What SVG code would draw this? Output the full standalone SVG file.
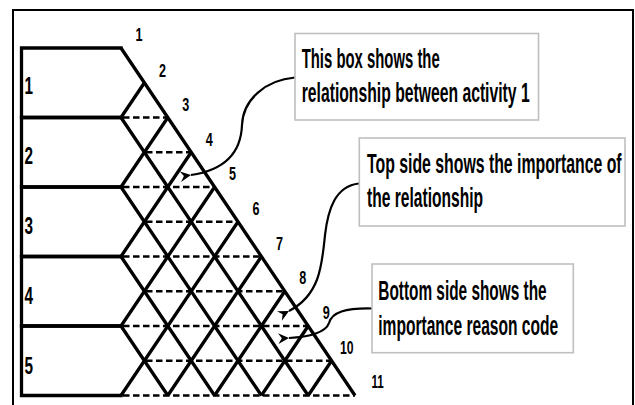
<svg xmlns="http://www.w3.org/2000/svg" width="635" height="405" viewBox="0 0 635 405">
<style>
.solid{fill:none;stroke:#000;stroke-width:3.3;stroke-linejoin:miter;stroke-linecap:square}
.grid{fill:none;stroke:#000;stroke-width:3.3;stroke-linecap:butt}
.dash{fill:none;stroke:#000;stroke-width:2.6;stroke-dasharray:6.5 3.5}
.num{font-family:"Liberation Sans",Arial,sans-serif;font-weight:bold;font-size:18px;fill:#000;text-anchor:middle}
.row{font-family:"Liberation Sans",Arial,sans-serif;font-weight:bold;font-size:24px;fill:#000}
.note{font-family:"Liberation Sans",Arial,sans-serif;font-weight:bold;font-size:28px;fill:#000}
.box{fill:#fff;stroke:#bfbfbf;stroke-width:1.6}
.conn{fill:none;stroke:#000;stroke-width:2.2}
</style>
<defs>
<marker id="arr" markerUnits="userSpaceOnUse" markerWidth="12" markerHeight="12" refX="1" refY="5" orient="auto" viewBox="0 0 10 10">
<path d="M10,0.5 L1,5 L10,9.5 L7,5 z" fill="#000"/>
</marker>
</defs>
<rect width="635" height="405" fill="#fff"/>
<path d="M13,410 V10 H633 V410" fill="none" stroke="#000" stroke-width="2"/>

<g id="activity-1">
<path class="solid" d="M121,48 H21.5 V117.5 H121"/>
<text class="row" transform="translate(24.5,94) scale(0.64,1)" textLength="13.3" lengthAdjust="spacingAndGlyphs">1</text>
</g>
<g id="activity-2">
<path class="solid" d="M121,117.5 H21.5 V187 H121"/>
<text class="row" transform="translate(24.5,164) scale(0.64,1)" textLength="13.3" lengthAdjust="spacingAndGlyphs">2</text>
</g>
<g id="activity-3">
<path class="solid" d="M121,187 H21.5 V256.5 H121"/>
<text class="row" transform="translate(24.5,233.5) scale(0.64,1)" textLength="13.3" lengthAdjust="spacingAndGlyphs">3</text>
</g>
<g id="activity-4">
<path class="solid" d="M121,256.5 H21.5 V326 H121"/>
<text class="row" transform="translate(24.5,303.5) scale(0.64,1)" textLength="13.3" lengthAdjust="spacingAndGlyphs">4</text>
</g>
<g id="activity-5">
<path class="solid" d="M121,326 H21.5 V395.5 H121"/>
<text class="row" transform="translate(24.5,373.5) scale(0.64,1)" textLength="13.3" lengthAdjust="spacingAndGlyphs">5</text>
</g>

<g id="matrix">
<path class="dash" d="M123,117.5 H167.8 M146,152.25 H191.2 M123,187 H214.6 M146,221.75 H238 M123,256.5 H261.4 M146,291.25 H284.8 M123,326 H308.2 M146,360.75 H331.6 M123,395.5 H355"/>
<path class="grid" d="M121,48 L355,395.5 M121,117.5 L308.2,395.5 M121,187 L261.4,395.5 M121,256.5 L214.6,395.5 M121,326 L167.8,395.5"/>
<path class="grid" d="M121,117.5 L144.4,82.75 M121,187 L167.8,117.5 M121,256.5 L191.2,152.25 M121,326 L214.6,187 M121,395.5 L238,221.75 M167.8,395.5 L261.4,256.5 M214.6,395.5 L284.8,291.25 M261.4,395.5 L308.2,326 M308.2,395.5 L331.6,360.75"/>
<text class="num" transform="translate(139,41) scale(0.7,1)">1</text>
<text class="num" transform="translate(162.4,76.5) scale(0.7,1)">2</text>
<text class="num" transform="translate(185.8,110.7) scale(0.7,1)">3</text>
<text class="num" transform="translate(209.2,145.5) scale(0.7,1)">4</text>
<text class="num" transform="translate(232.6,180) scale(0.7,1)">5</text>
<text class="num" transform="translate(256,215) scale(0.7,1)">6</text>
<text class="num" transform="translate(279.4,249.5) scale(0.7,1)">7</text>
<text class="num" transform="translate(302.8,284.3) scale(0.7,1)">8</text>
<text class="num" transform="translate(326.2,319) scale(0.7,1)">9</text>
<text class="num" transform="translate(346.7,353.5) scale(0.68,1)">10</text>
<text class="num" transform="translate(377.5,388) scale(0.64,1)">11</text>
</g>

<g id="connectors">
<path class="conn" marker-end="url(#arr)" d="M295,77.5 C265,80 243,100 242,125 C241,152 225,170 191,175"/>
<path class="conn" marker-end="url(#arr)" d="M359,183.5 C335,186 328,210 325,235 C322,265 320,295 289,311"/>
<path class="conn" marker-end="url(#arr)" d="M372,308.5 C345,308 332,312 329,323 C326,332 310,337 289,338"/>
</g>

<g id="note-box">
<rect class="box" x="295" y="33.5" width="243.5" height="86.5"/>
<text class="note" transform="translate(301.7,68.3) scale(0.55,1)" textLength="250.9" lengthAdjust="spacingAndGlyphs">This box shows the</text>
<text class="note" transform="translate(301.7,101.7) scale(0.55,1)" textLength="414.5" lengthAdjust="spacingAndGlyphs">relationship between activity 1</text>
</g>
<g id="note-top">
<rect class="box" x="359.3" y="138" width="265.7" height="88"/>
<text class="note" transform="translate(367,173.3) scale(0.55,1)" textLength="463" lengthAdjust="spacingAndGlyphs">Top side shows the importance of</text>
<text class="note" transform="translate(367,206.7) scale(0.55,1)" textLength="211" lengthAdjust="spacingAndGlyphs">the relationship</text>
</g>
<g id="note-bottom">
<rect class="box" x="372" y="264" width="201.3" height="88.7"/>
<text class="note" transform="translate(378.3,300) scale(0.55,1)" textLength="306" lengthAdjust="spacingAndGlyphs">Bottom side shows the</text>
<text class="note" transform="translate(378.3,335) scale(0.55,1)" textLength="327" lengthAdjust="spacingAndGlyphs">importance reason code</text>
</g>
</svg>
